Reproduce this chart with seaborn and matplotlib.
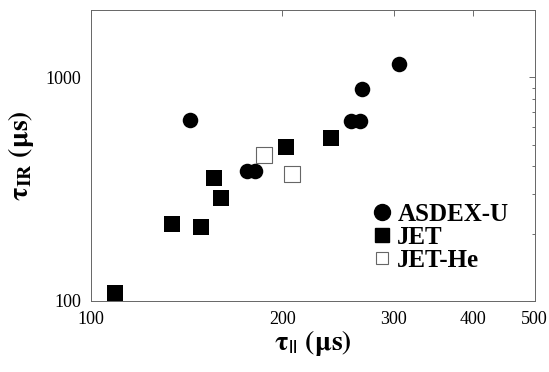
import matplotlib
matplotlib.use("Agg")
import matplotlib.pyplot as plt
import seaborn as sns
import pandas as pd
from matplotlib.lines import Line2D
from matplotlib.ticker import FixedLocator, NullFormatter, LogLocator

# data
asdex_tpar = [143, 176, 181, 257, 265, 267, 306]
asdex_tir = [643, 380, 380, 636, 636, 884, 1143]
jet_tpar = [109, 134, 149, 156, 160, 203, 239]
jet_tir = [108, 222, 215, 353, 289, 490, 538]
jethe_tpar = [187, 207]
jethe_tir = [449, 371]
x_ticks = [100, 200, 300, 400, 500]
y_ticks = [100, 1000]

sns.set_theme(style="white")
plt.rcParams['font.family'] = ['Liberation Serif', 'DejaVu Serif']
plt.rcParams['mathtext.fontset'] = 'stix'
plt.rcParams['text.color'] = 'black'
plt.rcParams['axes.labelcolor'] = 'black'

df = pd.concat([
    pd.DataFrame({'tpar': asdex_tpar, 'tir': asdex_tir, 'group': 'ASDEX-U'}),
    pd.DataFrame({'tpar': jet_tpar, 'tir': jet_tir, 'group': 'JET'}),
    pd.DataFrame({'tpar': jethe_tpar, 'tir': jethe_tir, 'group': 'JET-He'}),
])

fig = plt.figure(figsize=(5.49, 3.72), dpi=100)
ax = fig.add_axes([0.166, 0.191, 0.808, 0.782])

ms = 125
sns.scatterplot(data=df[df.group == 'ASDEX-U'], x='tpar', y='tir', marker='o',
                color='black', edgecolor='black', s=ms, linewidth=0, ax=ax, legend=False)
sns.scatterplot(data=df[df.group == 'JET'], x='tpar', y='tir', marker='s',
                color='black', edgecolor='black', s=ms, linewidth=0, ax=ax, legend=False)
sns.scatterplot(data=df[df.group == 'JET-He'], x='tpar', y='tir', marker='s',
                color='white', edgecolor='#666666', s=ms * 0.95, linewidth=0.8, ax=ax, legend=False)

ax.set_xscale('log')
ax.set_yscale('log')
ax.set_xlim(100, 500)
ax.set_ylim(100, 2000)

ax.xaxis.set_major_locator(FixedLocator(x_ticks))
ax.set_xticklabels([str(t) for t in x_ticks])
ax.xaxis.set_minor_locator(FixedLocator([]))
ax.yaxis.set_major_locator(FixedLocator(y_ticks))
ax.set_yticklabels([str(t) for t in y_ticks])
ax.yaxis.set_minor_locator(LogLocator(base=10, subs=range(2, 10)))
ax.yaxis.set_minor_formatter(NullFormatter())

ax.tick_params(axis='both', which='both', direction='in', top=True, right=True,
               color='#555555', width=0.6, labelsize=13, labelcolor='black')
ax.tick_params(axis='both', which='major', length=4)
ax.tick_params(axis='x', which='major', pad=7)
ax.tick_params(axis='y', which='major', pad=7)
ax.tick_params(axis='y', which='minor', length=2.5)
for sp in ax.spines.values():
    sp.set_color('#666666')
    sp.set_linewidth(0.7)

ax.set_xlabel(r'$\mathbf{\tau_{||}}$ $\mathbf{(\mu s)}$', fontsize=20, labelpad=0)
ax.set_ylabel(r'$\mathbf{\tau_{IR}}$ $\mathbf{(\mu s)}$', fontsize=20, labelpad=7)

handles = [
    Line2D([], [], marker='o', linestyle='none', markerfacecolor='black',
           markeredgecolor='black', markersize=11.5),
    Line2D([], [], marker='s', linestyle='none', markerfacecolor='black',
           markeredgecolor='black', markersize=10.5),
    Line2D([], [], marker='s', linestyle='none', markerfacecolor='white',
           markeredgecolor='#666666', markeredgewidth=0.8, markersize=9),
]
leg = ax.legend(handles, ['ASDEX-U', 'JET', 'JET-He'], loc='upper left',
                bbox_to_anchor=(0.6, 0.38), frameon=False,
                prop={'family': 'Liberation Serif', 'weight': 'bold', 'size': 18},
                handletextpad=0.1, labelspacing=0.0, handlelength=1.0,
                borderpad=0.0)
for t in leg.get_texts():
    t.set_color('black')

fig.savefig('out.png', dpi=100)
